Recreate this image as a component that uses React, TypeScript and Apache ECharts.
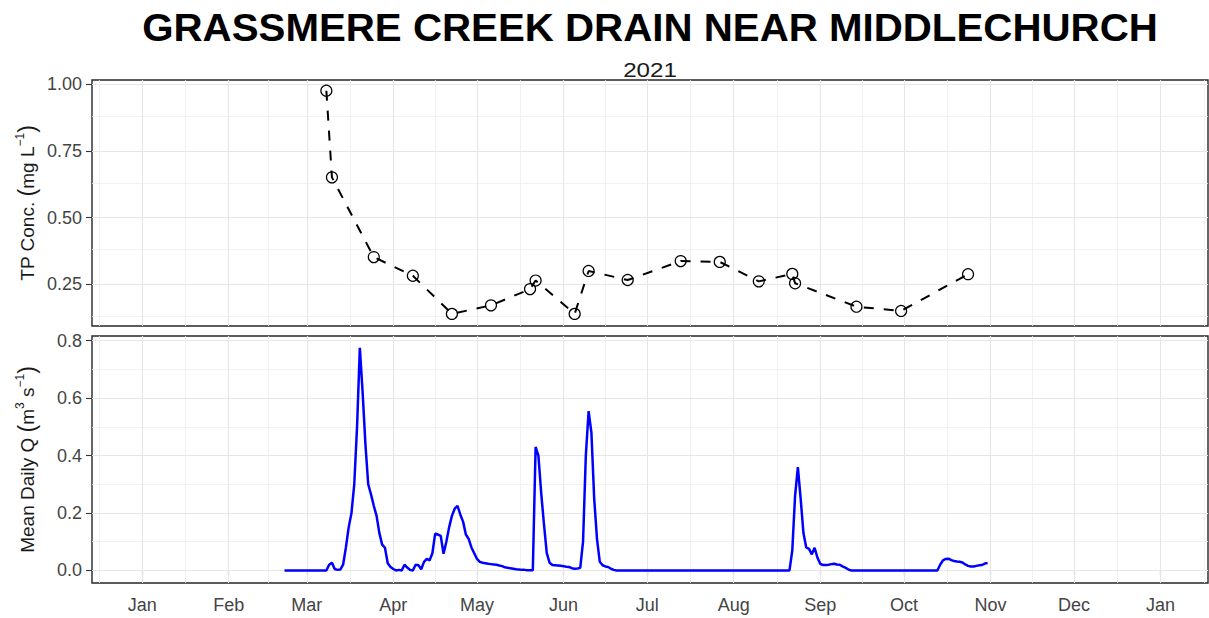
import React, { useEffect, useRef } from "react";
import * as echarts from "echarts";

const FONT = '"Liberation Sans", Arial, Helvetica, sans-serif';

const chartTitle = "GRASSMERE CREEK DRAIN NEAR MIDDLECHURCH";
const chartSubtitle = "2021";

const monthNames = ["Jan", "Feb", "Mar", "Apr", "May", "Jun", "Jul", "Aug", "Sep", "Oct", "Nov", "Dec"];
const monthBreaks = [
  "2021-01-01", "2021-02-01", "2021-03-01", "2021-04-01", "2021-05-01", "2021-06-01", "2021-07-01",
  "2021-08-01", "2021-09-01", "2021-10-01", "2021-11-01", "2021-12-01", "2022-01-01",
];
const gridMonths = [
  "2020-12-01", "2021-01-01", "2021-02-01", "2021-03-01", "2021-04-01", "2021-05-01", "2021-06-01",
  "2021-07-01", "2021-08-01", "2021-09-01", "2021-10-01", "2021-11-01", "2021-12-01", "2022-01-01", "2022-02-01",
];
const xRange = ["2020-12-14", "2022-01-18"];

const tpTicks = [0.25, 0.5, 0.75, 1.0];
const tpMinorTicks = [0.125, 0.375, 0.625, 0.875];
const tpRange = [0.0936, 1.0161];
const qTicks = [0, 0.2, 0.4, 0.6, 0.8];
const qMinorTicks = [0.1, 0.3, 0.5, 0.7];
const qRange = [-0.0437, 0.8163];

// Total phosphorus samples
const tpDates = [
  "2021-03-08", "2021-03-10", "2021-03-25", "2021-04-08", "2021-04-22", "2021-05-06", "2021-05-20",
  "2021-05-22", "2021-06-05", "2021-06-10", "2021-06-24", "2021-07-13", "2021-07-27", "2021-08-10",
  "2021-08-22", "2021-08-23", "2021-09-14", "2021-09-30", "2021-10-24",
];
const tpValues = [
  0.976, 0.651, 0.352, 0.282, 0.139, 0.171, 0.232, 0.264, 0.139, 0.3, 0.266, 0.337, 0.334, 0.261,
  0.289, 0.254, 0.166, 0.15, 0.288,
];

// Mean daily discharge, daily from 2021-02-21
const qStart = "2021-02-21";
const qFeb = [0, 0, 0, 0, 0, 0, 0, 0];
const qMar = [
  0, 0, 0, 0, 0, 0, 0, 0, 0.02, 0.027, 0.005, 0.002, 0.003, 0.02, 0.08, 0.15, 0.2, 0.3, 0.5, 0.775,
  0.62, 0.44, 0.3, 0.265, 0.225, 0.19, 0.13, 0.09, 0.079, 0.025, 0.012,
];
const qApr = [
  0.005, 0, 0.002, 0, 0.02, 0.01, 0.002, 0, 0.02, 0.018, 0.004, 0.03, 0.04, 0.035, 0.06, 0.128, 0.125,
  0.12, 0.058, 0.1, 0.15, 0.19, 0.215, 0.225, 0.195, 0.17, 0.125, 0.11, 0.08, 0.06,
];
const qMay = [
  0.04, 0.03, 0.027, 0.025, 0.023, 0.022, 0.021, 0.02, 0.017, 0.015, 0.011, 0.009, 0.008, 0.006, 0.004,
  0.003, 0.002, 0.002, 0.001, 0.001, 0.001, 0.43, 0.4, 0.27, 0.16, 0.06, 0.027, 0.019, 0.018, 0.017, 0.016,
];
const qJun = [
  0.015, 0.013, 0.012, 0.008, 0.006, 0.007, 0.009, 0.1, 0.4, 0.555, 0.48, 0.25, 0.11, 0.03, 0.018,
  0.014, 0.012, 0.006, 0.002, 0, 0, 0, 0, 0, 0, 0, 0, 0, 0, 0,
];
const qJul = [
  0, 0, 0, 0, 0, 0, 0, 0, 0, 0, 0, 0, 0, 0, 0, 0, 0, 0, 0, 0, 0, 0, 0, 0, 0, 0, 0, 0, 0, 0, 0,
];
const qAug = [
  0, 0, 0, 0, 0, 0, 0, 0, 0, 0, 0, 0, 0, 0, 0, 0, 0, 0, 0, 0, 0, 0.07, 0.26, 0.36, 0.25, 0.13, 0.08,
  0.075, 0.056, 0.079, 0.045,
];
const qSep = [
  0.023, 0.019, 0.019, 0.02, 0.022, 0.023, 0.021, 0.02, 0.014, 0.01, 0.004, 0, 0, 0, 0, 0, 0, 0, 0, 0,
  0, 0, 0, 0, 0, 0, 0, 0, 0, 0,
];
const qOct = [
  0, 0, 0, 0, 0, 0, 0, 0, 0, 0, 0, 0, 0, 0.02, 0.035, 0.04, 0.041, 0.036, 0.033, 0.031, 0.03, 0.028,
  0.021, 0.016, 0.014, 0.014, 0.016, 0.018, 0.019, 0.024, 0.026,
];

const DAY_MS = 86400000;
const toTs = (s: string) => Date.parse(s + "T00:00:00Z");

function buildOption() {
  const xMin = toTs(xRange[0]);
  const xMax = toTs(xRange[1]);
  const gridTs = gridMonths.map(toTs);
  const majorX = gridTs.filter((t) => t >= xMin && t <= xMax);
  const minorX = gridTs
    .slice(1)
    .map((t, i) => (t + gridTs[i]) / 2)
    .filter((t) => t >= xMin && t <= xMax);
  const breakTs = monthBreaks.map(toTs);

  const qAll = [...qFeb, ...qMar, ...qApr, ...qMay, ...qJun, ...qJul, ...qAug, ...qSep, ...qOct];
  const qStartTs = toTs(qStart);
  const qData = qAll.map((v, i) => [qStartTs + i * DAY_MS, v]);
  const tpData = tpDates.map((d, i) => [toTs(d), tpValues[i]]);

  const majorStyle = { color: "#e6e6e6", width: 1.1, type: "solid" };
  const minorStyle = { color: "#eeeeee", width: 0.8, type: "solid" };

  const gridLines = (yMajor: number[], yMinor: number[]) => ({
    silent: true,
    symbol: ["none", "none"],
    label: { show: false },
    z: 1,
    animation: false,
    emphasis: { disabled: true },
    data: [
      ...minorX.map((t) => ({ xAxis: t, lineStyle: minorStyle })),
      ...yMinor.map((v) => ({ yAxis: v, lineStyle: minorStyle })),
      ...majorX.map((t) => ({ xAxis: t, lineStyle: majorStyle })),
      ...yMajor.map((v) => ({ yAxis: v, lineStyle: majorStyle })),
    ],
  });

  const tickLabel = {
    color: "#444",
    fontSize: 18,
    fontFamily: FONT,
  };

  const nameRich = {
    t: { fontSize: 19, lineHeight: 26, color: "#1a1a1a", fontFamily: FONT },
    p: { fontSize: 23, lineHeight: 26, color: "#1a1a1a", fontFamily: FONT },
    s: { fontSize: 12, lineHeight: 12, verticalAlign: "top", color: "#1a1a1a", fontFamily: FONT },
  };

  const gridBase = {
    show: true,
    borderColor: "#262626",
    borderWidth: 1.4,
    backgroundColor: "transparent",
    containLabel: false,
    outerBoundsMode: "none",
  };

  return {
    animation: false,
    backgroundColor: "#ffffff",
    textStyle: { fontFamily: FONT },
    graphic: [
      {
        type: "text",
        x: 650,
        y: 28,
        scaleX: 1.06,
        silent: true,
        style: {
          text: chartTitle,
          fill: "#000",
          fontSize: 38,
          fontWeight: "bold",
          fontFamily: FONT,
          align: "center",
          verticalAlign: "middle",
          textAlign: "center",
          textVerticalAlign: "middle",
        },
      },
      {
        type: "text",
        x: 650,
        y: 70,
        scaleX: 1.15,
        silent: true,
        style: {
          text: chartSubtitle,
          fill: "#1a1a1a",
          fontSize: 21,
          fontFamily: FONT,
          align: "center",
          verticalAlign: "middle",
          textAlign: "center",
          textVerticalAlign: "middle",
        },
      },
    ],
    grid: [
      { ...gridBase, left: 92, top: 80, width: 1116, height: 246 },
      { ...gridBase, left: 92, top: 336, width: 1116, height: 247 },
    ],
    xAxis: [
      {
        gridIndex: 0,
        type: "value",
        min: xMin,
        max: xMax,
        axisLine: { show: false },
        axisTick: { show: false },
        axisLabel: { show: false },
        splitLine: { show: false },
        axisPointer: { show: false },
      },
      {
        gridIndex: 1,
        type: "value",
        min: xMin,
        max: xMax,
        axisLine: { show: false },
        axisTick: {
          show: true,
          length: 5,
          customValues: breakTs,
          lineStyle: { color: "#333", width: 1.1 },
        },
        axisLabel: {
          ...tickLabel,
          show: true,
          customValues: breakTs,
          margin: 13,
          hideOverlap: false,
          showMinLabel: true,
          showMaxLabel: true,
          formatter: (v: number) => monthNames[new Date(v).getUTCMonth()],
        },
        splitLine: { show: false },
        axisPointer: { show: false },
      },
    ],
    yAxis: [
      {
        gridIndex: 0,
        type: "value",
        min: tpRange[0],
        max: tpRange[1],
        name: "{t|TP Conc. }{p|(}{t|mg L}{s|\u22121}{p|)}",
        nameLocation: "middle",
        nameRotate: 90,
        nameGap: 52,
        nameMoveOverlap: false,
        nameTextStyle: { rich: nameRich, color: "#1a1a1a" },
        axisLine: { show: false },
        axisTick: {
          show: true,
          length: 6,
          customValues: tpTicks,
          lineStyle: { color: "#333", width: 1.1 },
        },
        axisLabel: {
          ...tickLabel,
          customValues: tpTicks,
          margin: 10,
          formatter: (v: number) => v.toFixed(2),
        },
        splitLine: { show: false },
      },
      {
        gridIndex: 1,
        type: "value",
        min: qRange[0],
        max: qRange[1],
        name: "{t|Mean Daily Q }{p|(}{t|m}{s|3}{t| s}{s|\u22121}{p|)}",
        nameLocation: "middle",
        nameRotate: 90,
        nameGap: 52,
        nameMoveOverlap: false,
        nameTextStyle: { rich: nameRich, color: "#1a1a1a" },
        axisLine: { show: false },
        axisTick: {
          show: true,
          length: 6,
          customValues: qTicks,
          lineStyle: { color: "#333", width: 1.1 },
        },
        axisLabel: {
          ...tickLabel,
          customValues: qTicks,
          margin: 10,
          formatter: (v: number) => v.toFixed(1),
        },
        splitLine: { show: false },
      },
    ],
    series: [
      {
        type: "line",
        name: "TP",
        xAxisIndex: 0,
        yAxisIndex: 0,
        data: tpData,
        z: 3,
        symbol: "circle",
        symbolSize: 11,
        showSymbol: true,
        showAllSymbol: true,
        lineStyle: { color: "#000", width: 2, type: [10, 10] },
        itemStyle: { color: "rgba(255,255,255,0)", borderColor: "#000", borderWidth: 1.2 },
        emphasis: { disabled: true },
        markLine: gridLines(tpTicks, tpMinorTicks),
      },
      {
        type: "line",
        name: "Q",
        xAxisIndex: 1,
        yAxisIndex: 1,
        data: qData,
        z: 3,
        symbol: "none",
        showSymbol: false,
        lineStyle: { color: "#0000ff", width: 2.5 },
        itemStyle: { color: "#0000ff" },
        emphasis: { disabled: true },
        markLine: gridLines(qTicks, qMinorTicks),
      },
    ],
  };
}

export default function App() {
  const ref = useRef<HTMLDivElement>(null);
  useEffect(() => {
    if (!ref.current) return;
    const chart = echarts.init(ref.current, null, { renderer: "svg" });
    chart.setOption(buildOption() as any);
    return () => {
      chart.dispose();
    };
  }, []);
  return (
    <div
      ref={ref}
      style={{ position: "absolute", left: 0, top: 0, width: 1209, height: 618, background: "#fff" }}
    />
  );
}
